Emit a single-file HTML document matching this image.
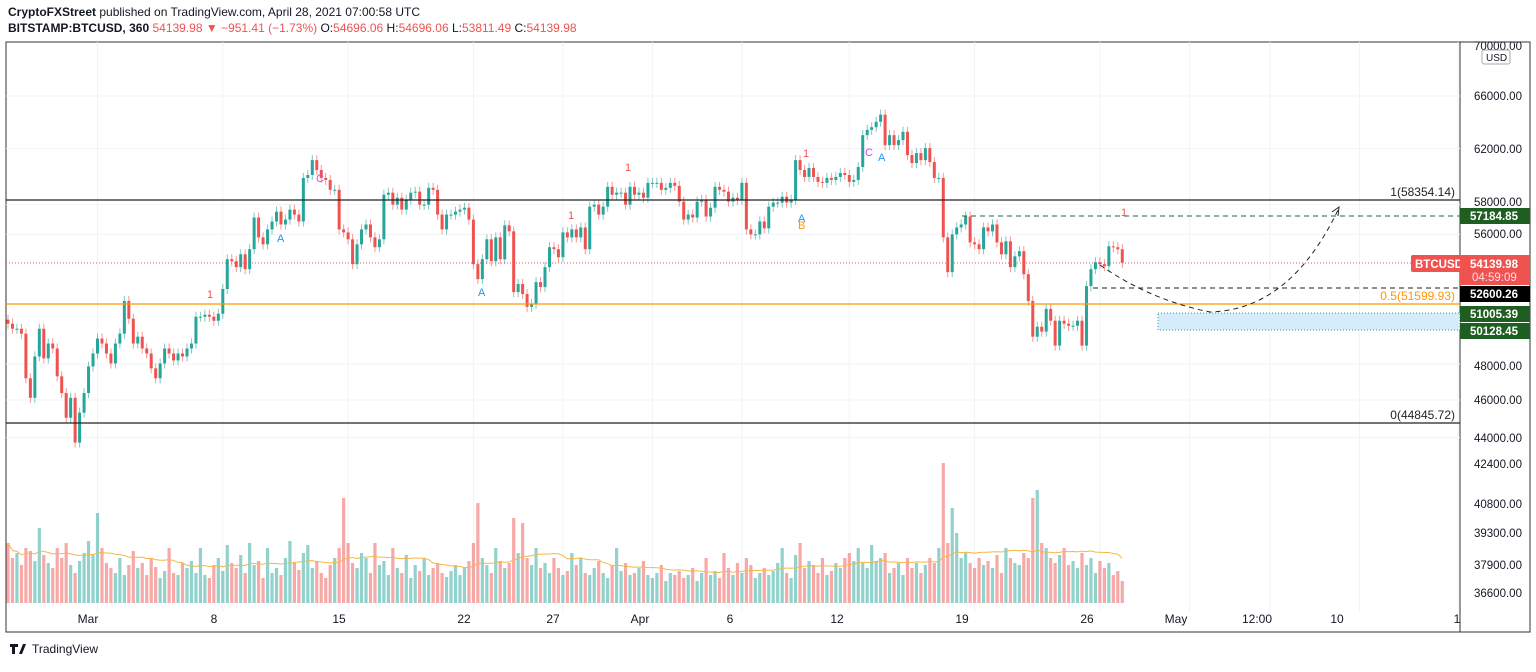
<!DOCTYPE html>
<html><head><meta charset="utf-8"><style>
body{margin:0;width:1536px;height:667px;background:#fff;overflow:hidden;font-family:"Liberation Sans",sans-serif}
</style></head><body>
<svg id="c" width="1536" height="667" xmlns="http://www.w3.org/2000/svg" font-family="Liberation Sans, sans-serif">
<text x="8" y="16" font-size="12" fill="#131722"><tspan font-weight="bold">CryptoFXStreet</tspan> published on TradingView.com, April 28, 2021 07:00:58 UTC</text>
<text x="8" y="32" font-size="12" fill="#131722"><tspan font-weight="bold">BITSTAMP:BTCUSD, 360</tspan> <tspan fill="#ef5350">54139.98 ▼ −951.41 (−1.73%)</tspan> O:<tspan fill="#ef5350">54696.06</tspan> H:<tspan fill="#ef5350">54696.06</tspan> L:<tspan fill="#ef5350">53811.49</tspan> C:<tspan fill="#ef5350">54139.98</tspan></text>
<rect x="6" y="42" width="1524" height="590" fill="none" stroke="#333" stroke-width="1"/>
<line x1="1460" y1="42" x2="1460" y2="632" stroke="#333"/>
<g id="grid"></g><g id="levels"></g><g id="vol"></g><g id="candles"></g><g id="ann"></g><g id="axis"></g>
<text x="32" y="653" font-size="12" fill="#131722">TradingView</text>
<path d="M10 644h8v3h-3v7h-3v-7h-2z M19 654l4-10h3l-4 10z" fill="#131722"/>
</svg>
<script>
const closes=[50.36,50.06,50.06,49.77,47.20,46.12,48.44,50.06,48.33,49.19,48.90,47.31,46.38,45.04,46.12,43.73,45.31,46.38,47.87,48.61,49.48,49.19,48.61,48.04,49.19,49.77,51.74,50.66,49.19,49.59,48.90,48.61,47.76,47.20,48.04,48.90,48.61,48.21,48.61,48.44,48.90,49.19,50.78,50.78,50.90,50.78,50.54,50.96,52.48,54.37,54.24,53.86,54.69,53.73,55.02,57.13,55.80,55.34,56.33,56.86,57.53,56.66,56.99,57.67,57.33,56.86,59.88,60.09,61.16,60.45,59.88,59.74,59.04,59.04,56.33,56.13,55.67,54.05,55.34,56.33,56.66,55.80,55.15,55.67,58.70,58.84,58.01,58.49,57.67,58.35,58.84,58.91,58.01,58.01,59.18,59.04,57.33,56.33,57.33,57.33,57.53,57.67,57.80,56.99,54.05,53.10,54.37,55.67,54.24,
55.80,54.37,56.60,56.20,52.29,52.79,52.17,51.38,51.56,52.91,52.60,53.86,55.15,55.02,54.50,56.13,55.80,56.33,55.80,56.46,55.02,57.87,58.01,57.33,57.87,59.25,58.70,58.84,58.84,58.01,59.25,58.70,58.84,58.49,59.53,59.53,59.53,59.04,59.18,59.53,59.32,58.22,56.99,57.33,57.13,58.22,58.35,57.20,57.80,59.25,59.04,58.91,58.22,58.49,58.35,59.53,56.33,56.00,56.00,56.86,56.40,57.87,58.15,58.15,58.56,58.15,58.35,61.16,60.45,59.95,
60.59,59.95,59.60,59.53,59.88,59.74,59.95,60.23,60.09,59.60,59.74,60.66,63.00,63.40,63.60,64.01,64.55,62.26,63.00,62.26,62.63,63.25,61.53,60.95,61.67,61.16,62.04,61.02,59.88,59.88,55.80,53.54,56.00,56.46,56.66,57.20,55.47,55.34,55.02,56.46,56.20,56.66,55.47,54.69,55.54,53.86,54.56,54.89,53.41,51.74,49.59,50.18,49.89,51.26,50.54,49.07,50.54,50.36,50.24,50.24,50.54,49.07,52.66,53.73,54.18,54.05,53.92,55.21,55.15,55.02,54.14];
const firstOpen=50.6;
const volumes=[60,45,50,38,55,52,42,75,48,40,35,55,45,60,38,30,42,50,62,48,90,55,40,35,30,45,28,38,52,35,40,28,45,36,25,32,55,30,28,40,35,42,30,55,28,25,38,45,32,58,40,35,48,30,60,38,42,25,55,30,35,28,45,62,40,33,50,58,35,42,30,25,38,45,55,105,60,40,35,50,45,30,60,38,42,28,55,35,30,48,25,38,32,45,28,35,40,30,26,32,38,28,35,42,60,100,45,38,30,55,42,35,40,85,50,80,45,38,55,35,40,30,45,35,28,32,50,38,45,30,28,35,42,30,25,38,55,32,40,28,30,35,42,28,25,30,38,22,30,28,32,25,28,35,22,30,45,28,32,25,50,35,28,40,30,45,38,25,30,35,28,32,40,55,30,25,48,60,35,42,38,30,45,28,32,40,35,45,50,42,55,40,35,58,42,45,50,30,35,40,28,45,35,40,30,38,45,40,55,140,60,95,70,45,50,40,35,45,38,42,35,48,30,55,45,40,38,50,45,105,113,60,55,45,40,48,55,38,42,35,50,38,45,30,42,35,40,28,32,22];
const priceTicks=[66000,62000,58000,56000,48000,46000,44000,42400,40800,39300,37900,36600];
const dateLabels=["Mar","8","15","22","27","Apr","6","12","19","26","May","12:00","10","1"];
const dateDays=[5.5,12.5,19.5,26.5,31.5,36.5,41.5,47.5,54.5,61.5,66.5,71,76,81.5];
const NS="http://www.w3.org/2000/svg";
function py(p){return 96+842*Math.log(66000/p);}
function cx(i){return 8+i*4.475;}
function dx(d){return 8+(d-0.5)*17.9;}
function vy(v){return 603-v;}
function el(t,a,par){const e=document.createElementNS(NS,t);for(const k in a)e.setAttribute(k,a[k]);document.getElementById(par).appendChild(e);return e;}
// grid
priceTicks.slice(0,7).forEach(p=>{const l=el('line',{x1:6,x2:1460,y1:py(p),y2:py(p),stroke:'#f0f3fa'},'grid');

});
dateDays.forEach(d=>{const l=el('line',{x1:dx(d),x2:dx(d),y1:42,y2:612,stroke:'#f0f3fa'},'grid');

});
// volume
let prev=firstOpen;
closes.forEach((c,i)=>{const o=prev;prev=c;const up=c>=o;const v=volumes[i];
const r=el('rect',{x:cx(i)-1.6,y:vy(v),width:3.2,height:603-vy(v),fill:up?'rgba(38,166,154,0.5)':'rgba(239,83,80,0.5)'},'vol');

});
let pts=[];for(let i=0;i<volumes.length;i++){const s=volumes.slice(Math.max(0,i-19),i+1);const m=s.reduce((a,b)=>a+b,0)/s.length;pts.push(cx(i)+','+vy(m));}
const ma=el('polyline',{points:pts.join(' '),fill:'none',stroke:'#f5b74a','stroke-width':1},'vol');


// candles
prev=firstOpen;
closes.forEach((c,i)=>{const o=prev;prev=c;const up=c>=o;const col=up?'#26a69a':'#ef5350';
const hi=Math.max(o,c)*1.006*1000,lo=Math.min(o,c)*0.994*1000;
const w=el('line',{x1:cx(i),x2:cx(i),y1:py(hi),y2:py(lo),stroke:col,'stroke-opacity':0.6},'candles');


const y1=py(Math.max(o,c)*1000),y2=py(Math.min(o,c)*1000);
const b=el('rect',{x:cx(i)-1.5,y:y1,width:3,height:Math.max(1,y2-y1),fill:col},'candles');

});
</script>
<svg style="position:absolute;left:0;top:0" width="1536" height="667" xmlns="http://www.w3.org/2000/svg" font-family="Liberation Sans, sans-serif" font-size="12">
<line x1="6" y1="200" x2="1460" y2="200" stroke="#222" stroke-width="1.3"/>
<line x1="6" y1="423" x2="1460" y2="423" stroke="#222" stroke-width="1.3"/>
<line x1="6" y1="304" x2="1460" y2="304" stroke="#ff9800" stroke-width="1.3"/>
<line x1="6" y1="263" x2="1460" y2="263" stroke="#ef5350" stroke-dasharray="1,2"/>
<line x1="962" y1="216" x2="1460" y2="216" stroke="#1e6e2e" stroke-dasharray="5,4"/>
<line x1="1093" y1="288" x2="1460" y2="288" stroke="#222" stroke-dasharray="5,4"/>
<rect x="1158" y="313" width="302" height="17" fill="#d6ebfb" stroke="#26a69a" stroke-dasharray="1,2"/>
<path d="M1100 265 Q1150 300 1210 312 Q1290 310 1338 210" fill="none" stroke="#222" stroke-dasharray="5,4"/>
<path d="M1332 212 L1339 207 L1338 216" fill="none" stroke="#222"/>
<text x="1455" y="196" text-anchor="end" fill="#222">1(58354.14)</text>
<text x="1455" y="300" text-anchor="end" fill="#ff9800">0.5(51599.93)</text>
<text x="1455" y="419" text-anchor="end" fill="#222">0(44845.72)</text>
<g font-size="11">
<text x="207" y="298" fill="#ef5350">1</text><text x="568" y="219" fill="#ef5350">1</text><text x="625" y="171" fill="#ef5350">1</text><text x="803" y="157" fill="#ef5350">1</text><text x="1121" y="216" fill="#ef5350">1</text>
<text x="316" y="182" fill="#e040fb">C</text><text x="865" y="156" fill="#e040fb">C</text>
<text x="277" y="242" fill="#2196f3">A</text><text x="478" y="296" fill="#2196f3">A</text><text x="798" y="222" fill="#2196f3">A</text><text x="878" y="161" fill="#2196f3">A</text>
<text x="798" y="229" fill="#ff9800">B</text>
</g>
<g font-size="11.5" fill="#131722">
<text x="1474" y="50">70000.00</text>
<rect x="1482" y="50" width="28" height="14" fill="#fff" stroke="#aaa" rx="2"/><text x="1486" y="61" font-size="10">USD</text>
<text x="1474" y="100">66000.00</text><text x="1474" y="153">62000.00</text><text x="1474" y="206">58000.00</text><text x="1474" y="238">56000.00</text>
<text x="1474" y="370">48000.00</text><text x="1474" y="404">46000.00</text><text x="1474" y="442">44000.00</text><text x="1474" y="468">42400.00</text>
<text x="1474" y="508">40800.00</text><text x="1474" y="537">39300.00</text><text x="1474" y="569">37900.00</text><text x="1474" y="597">36600.00</text>
</g>
<g font-size="11.5" font-weight="bold" fill="#fff">
<rect x="1460" y="208" width="70" height="16" fill="#1e5e20"/><text x="1470" y="220">57184.85</text>
<rect x="1411" y="255" width="50" height="17" fill="#ef5350" rx="2"/><text x="1415" y="268">BTCUSD</text>
<rect x="1460" y="255" width="70" height="30" fill="#ef5350"/><text x="1470" y="268">54139.98</text><text x="1472" y="281" font-weight="normal" fill="#fde">04:59:09</text>
<rect x="1460" y="286" width="70" height="16" fill="#000"/><text x="1470" y="298">52600.26</text>
<rect x="1460" y="306" width="70" height="16" fill="#1e5e20"/><text x="1470" y="318">51005.39</text>
<rect x="1460" y="323" width="70" height="16" fill="#1e5e20"/><text x="1470" y="335">50128.45</text>
</g>
<g font-size="12" fill="#131722" text-anchor="middle">
<text x="88" y="623">Mar</text><text x="214" y="623">8</text><text x="339" y="623">15</text><text x="464" y="623">22</text><text x="553" y="623">27</text><text x="640" y="623">Apr</text><text x="730" y="623">6</text><text x="837" y="623">12</text><text x="962" y="623">19</text><text x="1087" y="623">26</text><text x="1176" y="623">May</text><text x="1257" y="623">12:00</text><text x="1337" y="623">10</text><text x="1457" y="623">1</text>
</g>
</svg>
</body></html>
